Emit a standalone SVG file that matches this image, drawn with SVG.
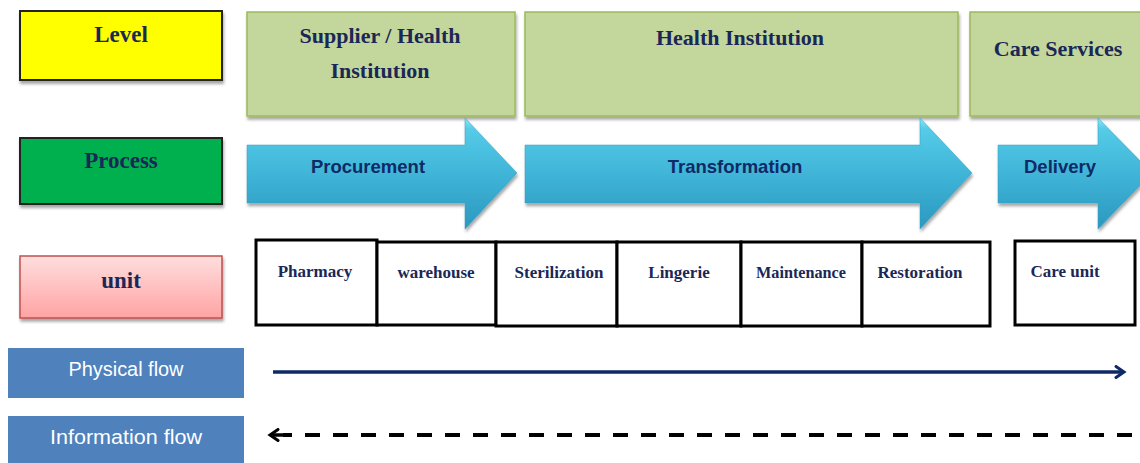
<svg xmlns="http://www.w3.org/2000/svg" width="1140" height="463" viewBox="0 0 1140 463">
<defs>
<linearGradient id="arrowGrad" x1="0" y1="0" x2="0" y2="1">
<stop offset="0" stop-color="#86EAFA"/>
<stop offset="0.1" stop-color="#55CBE7"/>
<stop offset="0.55" stop-color="#3DB2D6"/>
<stop offset="1" stop-color="#2C98BE"/>
</linearGradient>
<linearGradient id="pinkGrad" x1="0" y1="0" x2="0" y2="1">
<stop offset="0" stop-color="#FFDEDE"/>
<stop offset="1" stop-color="#FFA3A3"/>
</linearGradient>
<filter id="shadow" x="-5%" y="-5%" width="115%" height="130%">
<feDropShadow dx="1" dy="3" stdDeviation="1.5" flood-color="#000" flood-opacity="0.35"/>
</filter>
<marker id="openHead" markerWidth="14" markerHeight="14" refX="11" refY="7" orient="auto" markerUnits="userSpaceOnUse">
<path d="M3,1.5 L11,7 L3,12.5" fill="none" stroke="#0E2A66" stroke-width="3" stroke-linecap="round" stroke-linejoin="miter"/>
</marker>
<marker id="openHeadBlack" markerWidth="14" markerHeight="14" refX="11" refY="7" orient="auto-start-reverse" markerUnits="userSpaceOnUse">
<path d="M3,1.5 L11,7 L3,12.5" fill="none" stroke="#000" stroke-width="3" stroke-linecap="round"/>
</marker>
</defs>
<style>
.serifB{font-family:"Liberation Serif","Times New Roman",serif;font-weight:bold;fill:#1A2757;}
.lvl{font-size:23px;}
.hdr{font-size:22px;}
.cell{font-size:17px;}
.arrTxt{font-family:"Liberation Sans",Arial,sans-serif;font-weight:bold;font-size:18.5px;fill:#0F2A66;}
.flowTxt{font-family:"Liberation Sans",Arial,sans-serif;font-size:20px;fill:#FFFFFF;}
.green{fill:#C3D69B;stroke:#9BBB59;stroke-width:1.5;}
.arrow{fill:url(#arrowGrad);stroke:#2E9CC2;stroke-width:0.5;}
.cellBox{fill:#FFFFFF;stroke:#000;stroke-width:3;}
.flowBox{fill:#4F81BD;}
</style>
<rect width="1140" height="463" fill="#FFFFFF"/>

<g id="level">
<rect x="20" y="11" width="202" height="69" fill="#FFFF00" stroke="#222" stroke-width="2" filter="url(#shadow)"/>
<text class="serifB lvl" x="121" y="42" text-anchor="middle">Level</text>
</g>
<g id="process">
<rect x="20" y="138" width="202" height="66" fill="#00B050" stroke="#222" stroke-width="2" filter="url(#shadow)"/>
<text class="serifB lvl" x="121" y="168" text-anchor="middle">Process</text>
</g>
<g id="unit">
<rect x="20" y="256" width="202" height="62" fill="url(#pinkGrad)" stroke="#C0504D" stroke-width="1.5" filter="url(#shadow)"/>
<text class="serifB lvl" x="121" y="288" text-anchor="middle">unit</text>
</g>

<g id="level-supplier">
<rect class="green" x="247" y="12" width="268" height="104" filter="url(#shadow)"/>
<text class="serifB hdr" x="380" y="43" text-anchor="middle">Supplier / Health</text>
<text class="serifB hdr" x="380" y="78" text-anchor="middle">Institution</text>
</g>
<g id="level-health">
<rect class="green" x="525" y="12" width="433" height="104" filter="url(#shadow)"/>
<text class="serifB hdr" x="740" y="45" text-anchor="middle">Health Institution</text>
</g>
<g id="level-care">
<rect class="green" x="970" y="12" width="175" height="104" filter="url(#shadow)"/>
<text class="serifB hdr" x="1058" y="56" text-anchor="middle">Care Services</text>
</g>

<g id="proc-procurement">
<path class="arrow" d="M247,145 L465,145 L465,118 L517,173 L465,229 L465,203 L247,203 Z" filter="url(#shadow)"/>
<text class="arrTxt" x="368" y="173" text-anchor="middle">Procurement</text>
</g>
<g id="proc-transformation">
<path class="arrow" d="M525,145 L920,145 L920,118 L972,173 L920,229 L920,203 L525,203 Z" filter="url(#shadow)"/>
<text class="arrTxt" x="735" y="173" text-anchor="middle">Transformation</text>
</g>
<g id="proc-delivery">
<path class="arrow" d="M998,145 L1098,145 L1098,118 L1152,173 L1098,229 L1098,203 L998,203 Z" filter="url(#shadow)"/>
<text class="arrTxt" x="1060" y="173" text-anchor="middle">Delivery</text>
</g>

<g id="unit-pharmacy">
<rect class="cellBox" x="256" y="240" width="121" height="85"/>
<text class="serifB cell" x="315" y="277" text-anchor="middle">Pharmacy</text>
</g>
<g id="unit-warehouse">
<rect class="cellBox" x="377" y="242" width="119" height="83"/>
<text class="serifB cell" x="436" y="278" text-anchor="middle">warehouse</text>
</g>
<g id="unit-sterilization">
<rect class="cellBox" x="496" y="242" width="121" height="84"/>
<text class="serifB cell" x="559" y="278" text-anchor="middle">Sterilization</text>
</g>
<g id="unit-lingerie">
<rect class="cellBox" x="617" y="242" width="124" height="84"/>
<text class="serifB cell" x="679" y="278" text-anchor="middle">Lingerie</text>
</g>
<g id="unit-maintenance">
<rect class="cellBox" x="741" y="242" width="121" height="84"/>
<text class="serifB cell" x="801" y="278" text-anchor="middle" textLength="90" lengthAdjust="spacingAndGlyphs">Maintenance</text>
</g>
<g id="unit-restoration">
<rect class="cellBox" x="862" y="242" width="128" height="84"/>
<text class="serifB cell" x="920" y="278" text-anchor="middle">Restoration</text>
</g>
<g id="unit-care">
<rect class="cellBox" x="1015" y="241" width="120" height="84"/>
<text class="serifB cell" x="1065" y="277" text-anchor="middle">Care unit</text>
</g>

<g id="physical-flow">
<rect class="flowBox" x="8" y="348" width="236" height="50"/>
<text class="flowTxt" x="126" y="376" text-anchor="middle" textLength="115" lengthAdjust="spacingAndGlyphs">Physical flow</text>
</g>
<g id="information-flow">
<rect class="flowBox" x="8" y="416" width="236" height="47"/>
<text class="flowTxt" x="126" y="444" text-anchor="middle" textLength="152" lengthAdjust="spacingAndGlyphs">Information flow</text>
</g>

<g id="connectors">
<line x1="273" y1="372" x2="1124" y2="372" stroke="#0E2A66" stroke-width="3.5" marker-end="url(#openHead)"/>
<line x1="1132" y1="435" x2="283" y2="435" stroke="#000" stroke-width="4" stroke-dasharray="15,13"/>
<line x1="270" y1="435" x2="290" y2="435" stroke="#000" stroke-width="3.5" marker-start="url(#openHeadBlack)"/>
</g>
</svg>
